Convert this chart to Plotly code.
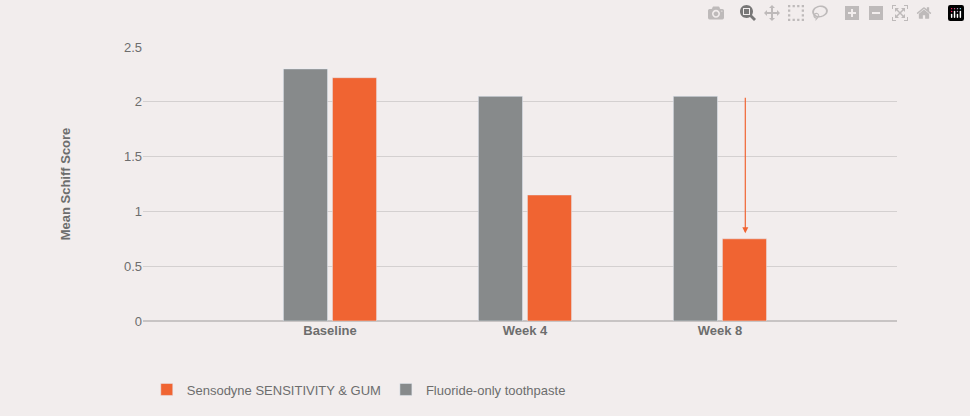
import plotly.graph_objects as go

categories = ["Baseline", "Week 4", "Week 8"]
fluoride = [2.3, 2.05, 2.05]
sensodyne = [2.22, 1.15, 0.75]
yticks = [0, 0.5, 1, 1.5, 2, 2.5]

xs = [0, 1, 2]
fig = go.Figure()
fig.add_bar(x=xs, y=fluoride, name="Fluoride-only toothpaste", marker_color="#878a8b")
fig.add_bar(x=xs, y=sensodyne, name="Sensodyne SENSITIVITY & GUM", marker_color="#f06432")

fig.add_annotation(x=2.13, y=0.8, ax=2.13, ay=2.05, xref="x", yref="y", axref="x", ayref="y",
                   text="", showarrow=True, arrowhead=2, arrowsize=1, arrowwidth=1.2,
                   arrowcolor="#f06432")

fig.update_layout(
    width=970, height=416,
    paper_bgcolor="#f2eded", plot_bgcolor="#f2eded",
    margin=dict(l=143, r=73, t=47, b=95),
    barmode="group", bargap=0.497, bargroupgap=0.1,
    font=dict(family="Arial, Liberation Sans", color="#6d6d6d", size=13),
    xaxis=dict(range=[-0.959, 2.908], tickvals=xs, ticktext=["<b>%s</b>" % c for c in categories],
               showgrid=False, zeroline=False, showline=False, ticklen=0, ticks="",
               tickfont=dict(size=13, color="#6d6d6d")),
    yaxis=dict(range=[0, 2.5], tickvals=yticks, ticktext=["0", "0.5", "1", "1.5", "2", "2.5"],
               showgrid=True, gridcolor="#d4d0d0", gridwidth=1, zeroline=True,
               zerolinecolor="#c8c4c4", ticks="", ticklen=0,
               title=dict(text="<b>Mean Schiff Score</b>", font=dict(size=13, color="#6d6d6d"), standoff=50),
               tickfont=dict(size=13, color="#6d6d6d")),
    legend=dict(orientation="h", x=0.005, xanchor="left", y=-0.25, yanchor="middle",
                traceorder="reversed", font=dict(size=13, color="#6d6d6d"),
                bgcolor="rgba(0,0,0,0)", itemwidth=30),
    showlegend=True,
)
fig.write_html("out.html")
with open("out.html", encoding="utf-8") as f:
    html = f.read()
html = html.replace("<body>", '<body style="margin:0;background:#f2eded">', 1)
with open("out.html", "w", encoding="utf-8") as f:
    f.write(html)
